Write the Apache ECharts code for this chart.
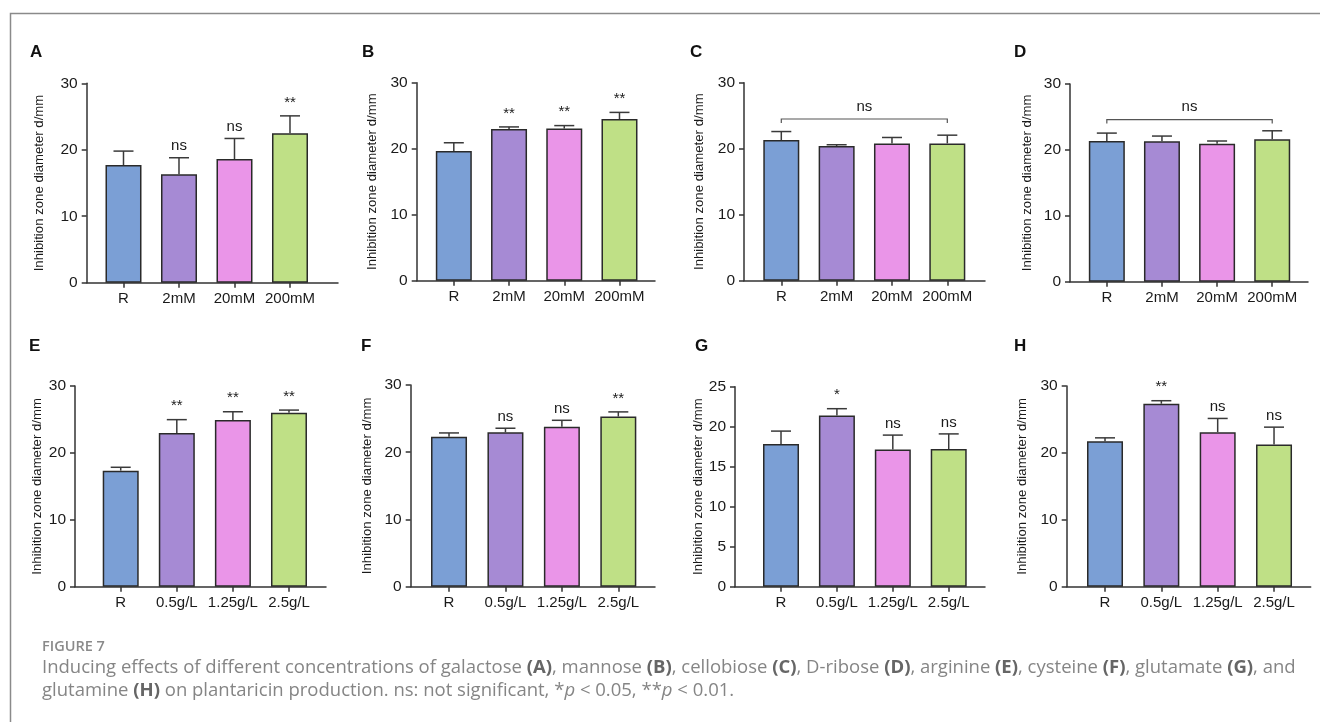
<!DOCTYPE html>
<html>
<head>
<meta charset="utf-8">
<script src="https://cdn.jsdelivr.net/npm/echarts@6/dist/echarts.min.js"></script>
<style>
html,body{margin:0;padding:0;background:#fff;}
#chart{width:1320px;height:722px;}
</style>
</head>
<body>
<div id="chart"></div>
<script>
// ---------- data ----------
const sugarCategories = ['R', '2mM', '20mM', '200mM'];
const aminoCategories = ['R', '0.5g/L', '1.25g/L', '2.5g/L'];
const barColors = ['#7b9fd5', '#a68ad4', '#ea95e8', '#bfe086'];

const galactoseMean = [17.7, 16.3, 18.6, 22.5];
const galactoseErr  = [2.1, 2.5, 3.1, 2.6];
const galactoseSig  = ['', 'ns', 'ns', '**'];

const mannoseMean = [19.65, 23.0, 23.05, 24.5];
const mannoseErr  = [1.25, 0.3, 0.45, 1.0];
const mannoseSig  = ['', '**', '**', '**'];

const cellobioseMean = [21.3, 20.4, 20.8, 20.8];
const cellobioseErr  = [1.3, 0.2, 0.9, 1.25];
const cellobioseBracket = {value: 24.5, text: 'ns'};

const riboseMean = [21.35, 21.3, 20.95, 21.6];
const riboseErr  = [1.2, 0.8, 0.4, 1.3];
const riboseBracket = {value: 24.6, text: 'ns'};

const arginineMean = [17.35, 22.97, 24.9, 26.0];
const arginineErr  = [0.5, 2.0, 1.25, 0.4];
const arginineSig  = ['', '**', '**', '**'];

const cysteineMean = [22.3, 22.97, 23.8, 25.3];
const cysteineErr  = [0.57, 0.6, 0.95, 0.7];
const cysteineSig  = ['', 'ns', 'ns', '**'];

const glutamateMean = [17.85, 21.4, 17.15, 17.2];
const glutamateErr  = [1.6, 0.85, 1.8, 1.9];
const glutamateSig  = ['', '*', 'ns', 'ns'];

const glutamineMean = [21.75, 27.35, 23.1, 21.25];
const glutamineErr  = [0.5, 0.45, 2.05, 2.6];
const glutamineSig  = ['', '**', 'ns', 'ns'];

const yTitle = 'Inhibition zone diameter d/mm';
const yMaxDefault = 30, yIntervalDefault = 10;
const yMaxGlutamate = 25, yIntervalGlutamate = 5;

// ---------- panels ----------
const panels = [
  {tag:'A', cats:sugarCategories, mean:galactoseMean, err:galactoseErr, sig:galactoseSig, yMax:yMaxDefault, yInt:yIntervalDefault},
  {tag:'B', cats:sugarCategories, mean:mannoseMean, err:mannoseErr, sig:mannoseSig, yMax:yMaxDefault, yInt:yIntervalDefault},
  {tag:'C', cats:sugarCategories, mean:cellobioseMean, err:cellobioseErr, bracket:cellobioseBracket, yMax:yMaxDefault, yInt:yIntervalDefault},
  {tag:'D', cats:sugarCategories, mean:riboseMean, err:riboseErr, bracket:riboseBracket, yMax:yMaxDefault, yInt:yIntervalDefault},
  {tag:'E', cats:aminoCategories, mean:arginineMean, err:arginineErr, sig:arginineSig, yMax:yMaxDefault, yInt:yIntervalDefault},
  {tag:'F', cats:aminoCategories, mean:cysteineMean, err:cysteineErr, sig:cysteineSig, yMax:yMaxDefault, yInt:yIntervalDefault},
  {tag:'G', cats:aminoCategories, mean:glutamateMean, err:glutamateErr, sig:glutamateSig, yMax:yMaxGlutamate, yInt:yIntervalGlutamate},
  {tag:'H', cats:aminoCategories, mean:glutamineMean, err:glutamineErr, sig:glutamineSig, yMax:yMaxDefault, yInt:yIntervalDefault}
];

// layout (pixels) per panel
const layouts = [
  {left:86.7, right:982, top:83.3, bottom:439.3, xMin:-0.663, xMax:3.865, gap:41, lx:37, ly:54},
  {left:416.7, right:665, top:82.7, bottom:441.3, xMin:-0.672, xMax:3.643, gap:38, lx:369, ly:54},
  {left:744, right:335, top:82.7, bottom:441.3, xMin:-0.674, xMax:3.681, gap:38.5, lx:697, ly:54},
  {left:1070, right:12, top:84, bottom:440.3, xMin:-0.668, xMax:3.649, gap:36.5, lx:1021, ly:54},
  {left:75, right:994, top:386, bottom:135.3, xMin:-0.815, xMax:3.66, gap:31.5, lx:36, ly:348},
  {left:410.7, right:665, top:385, bottom:135.3, xMin:-0.679, xMax:3.65, gap:37, lx:368, ly:348},
  {left:735, right:335, top:386.7, bottom:135.3, xMin:-0.823, xMax:3.649, gap:30, lx:702, ly:348},
  {left:1066.7, right:9.3, top:386, bottom:135.3, xMin:-0.68, xMax:3.651, gap:38, lx:1021, ly:348}
];

const FONT = 'Liberation Sans, Arial, Helvetica, sans-serif';
const AXIS_COLOR = '#333';

const grids = [], xAxes = [], yAxes = [], series = [], graphics = [];

panels.forEach((p, k) => {
  const L = layouts[k];
  grids.push({left:L.left, right:L.right, top:L.top, bottom:L.bottom, containLabel:false, outerBoundsMode:'none'});
  xAxes.push({
    gridIndex:k, type:'value', min:L.xMin, max:L.xMax,
    axisLine:{show:true, onZero:false, lineStyle:{color:AXIS_COLOR, width:1.5}},
    axisTick:{show:true, length:5, customValues:[0,1,2,3], lineStyle:{color:AXIS_COLOR, width:1.5}},
    axisLabel:{show:true, customValues:[0,1,2,3], formatter:(v)=>p.cats[Math.round(v)] || '',
               color:'#1a1a1a', fontSize:15, fontFamily:FONT, margin:9},
    splitLine:{show:false}
  });
  yAxes.push({
    gridIndex:k, type:'value', min:0, max:p.yMax, interval:p.yInt,
    name:yTitle, nameLocation:'middle', nameGap:L.gap,
    nameTextStyle:{color:'#1a1a1a', fontSize:13.2, fontFamily:FONT},
    axisLine:{show:true, onZero:false, lineStyle:{color:AXIS_COLOR, width:1.5}},
    axisTick:{show:true, length:5, lineStyle:{color:AXIS_COLOR, width:1.5}},
    axisLabel:{color:'#1a1a1a', fontSize:15.5, fontFamily:FONT, margin:9},
    splitLine:{show:false}
  });
  // bars
  series.push({
    type:'bar', xAxisIndex:k, yAxisIndex:k, barWidth:36,
    data:p.mean.map((v,i)=>({value:[i,v], itemStyle:{color:barColors[i]}})),
    itemStyle:{borderColor:'#2a2a2a', borderWidth:1.5},
    silent:true, animation:false
  });
  // error bars (upper only) + significance labels
  series.push({
    type:'custom', xAxisIndex:k, yAxisIndex:k, silent:true, animation:false, z:3,
    encode:{x:0, y:1},
    data:p.mean.map((v,i)=>[i, v]),
    renderItem:(params, api)=>{
      const i = params.dataIndex;
      const m = p.mean[i], e = p.err[i];
      const base = api.coord([i, m]);
      const top = api.coord([i, m + e]);
      const hw = 10;
      const children = [
        {type:'polyline', shape:{points:[[base[0], base[1]], [top[0], top[1]]]}, style:{stroke:'#3a3a3a', lineWidth:1.5, fill:null}},
        {type:'polyline', shape:{points:[[top[0]-hw, top[1]], [top[0]+hw, top[1]]]}, style:{stroke:'#3a3a3a', lineWidth:1.5, fill:null}}
      ];
      const t = p.sig ? p.sig[i] : '';
      if (t) {
        const isStar = t.indexOf('*') >= 0;
        children.push({type:'text', x:top[0], y:top[1] - (isStar ? 6 : 4),
          style:{text:t, align:'center', verticalAlign:'bottom', fill:'#1a1a1a', font:'15px ' + FONT}});
      }
      return {type:'group', children:children};
    }
  });
  // bracket
  if (p.bracket) {
    series.push({
      type:'custom', xAxisIndex:k, yAxisIndex:k, silent:true, animation:false, z:4,
      encode:{x:0, y:1},
      data:[[0, p.bracket.value]],
      renderItem:(params, api)=>{
        const a = api.coord([0, p.bracket.value]);
        const b = api.coord([3, p.bracket.value]);
        return {type:'group', children:[
          {type:'polyline', shape:{points:[[a[0], a[1]+4],[a[0], a[1]],[b[0], b[1]],[b[0], b[1]+4]]},
           style:{stroke:'#555', lineWidth:1.2, fill:null}},
          {type:'text', x:(a[0]+b[0])/2, y:a[1]-5,
           style:{text:p.bracket.text, align:'center', verticalAlign:'bottom', fill:'#1a1a1a', font:'15px ' + FONT}}
        ]};
      }
    });
  }
  graphics.push({type:'text', left:L.lx - 7, top:L.ly - 10,
    style:{text:p.tag, fill:'#111', font:'bold 17px ' + FONT}});
});

// frame
graphics.push({type:'polyline', shape:{points:[[10.5,722],[10.5,13.5],[1320,13.5]]},
  style:{stroke:'#8a8a8a', lineWidth:1.5, fill:null}, silent:true});

// caption
const CAP_FONT = 'Open Sans, Noto Sans, sans-serif';
graphics.push({type:'text', left:42, top:639,
  style:{text:'FIGURE 7', fill:'#8a8a8a', font:'600 14.5px ' + CAP_FONT}});
const capRich = {
  n:{fill:'#858585', font:'18.5px ' + CAP_FONT},
  b:{fill:'#666666', font:'bold 18.5px ' + CAP_FONT},
  i:{fill:'#858585', font:'italic 18.5px ' + CAP_FONT}
};
graphics.push({type:'text', left:42, top:658,
  style:{text:'{n|Inducing effects of different concentrations of galactose }{b|(A)}{n|, mannose }{b|(B)}{n|, cellobiose }{b|(C)}{n|, D-ribose }{b|(D)}{n|, arginine }{b|(E)}{n|, cysteine }{b|(F)}{n|, glutamate }{b|(G)}{n|, and}',
         rich:capRich}});
graphics.push({type:'text', left:42, top:681,
  style:{text:'{n|glutamine }{b|(H)}{n| on plantaricin production. ns: not significant, *}{i|p}{n| < 0.05, **}{i|p}{n| < 0.01.}',
         rich:capRich}});

const chart = echarts.init(document.getElementById('chart'), null, {renderer:'canvas'});
chart.setOption({
  animation:false,
  backgroundColor:'#ffffff',
  grid:grids, xAxis:xAxes, yAxis:yAxes, series:series, graphic:graphics
});
</script>
</body>
</html>
